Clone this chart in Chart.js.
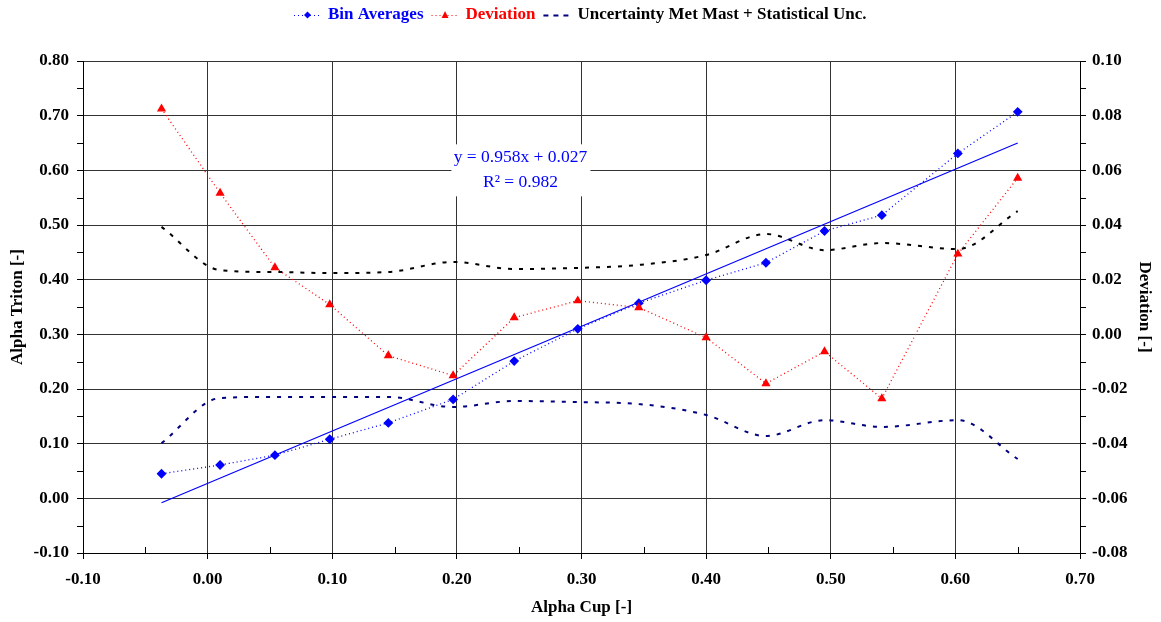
<!DOCTYPE html>
<html>
<head>
<meta charset="utf-8">
<script src="https://cdn.jsdelivr.net/npm/chart.js@4.4.1/dist/chart.umd.min.js"></script>
<style>
  html, body { margin: 0; padding: 0; background: #fff; }
</style>
</head>
<body>
<canvas id="chart" width="1161" height="622"></canvas>
<script>
  // values
  const alphaCup = [-0.037, 0.010, 0.054, 0.098, 0.145, 0.197, 0.246, 0.297, 0.346, 0.400, 0.448, 0.495, 0.541, 0.602, 0.650];
  const binAverages = [0.045, 0.061, 0.079, 0.108, 0.138, 0.181, 0.251, 0.310, 0.357, 0.399, 0.431, 0.489, 0.518, 0.631, 0.707];
  const deviation = [0.0825, 0.0517, 0.0244, 0.0109, -0.0078, -0.0151, 0.0061, 0.0123, 0.0098, -0.0012, -0.0180, -0.0063, -0.0235, 0.0294, 0.0572];
  const uncUpper = [0.0393, 0.0235, 0.0228, 0.0224, 0.0228, 0.0265, 0.0239, 0.0243, 0.0254, 0.0290, 0.0367, 0.0308, 0.0334, 0.0312, 0.0451];
  const uncLower = [-0.0398, -0.0233, -0.0229, -0.0229, -0.0229, -0.0266, -0.0244, -0.0248, -0.0255, -0.0295, -0.0372, -0.0314, -0.0339, -0.0314, -0.0456];
  const trendX = [-0.037, 0.650];
  const trendY = [-0.008, 0.650];
  const fitText = ['y = 0.958x + 0.027', 'R\u00b2 = 0.982'];

  const SERIF = '"Liberation Serif", "Times New Roman", serif';
  const BLUE = '#0000ff';
  const RED = '#ff0000';
  const NAVY = '#000080';

  const pts = (xs, ys) => xs.map((x, i) => ({ x, y: ys[i] }));
  const fmt = (v) => (Math.abs(v) < 1e-9 ? 0 : v).toFixed(2);
  const tickFont = { family: SERIF, size: 17, weight: 'bold' };
  const titleFont = { family: SERIF, size: 17, weight: 'bold' };

  const whiteBg = {
    id: 'whiteBg',
    beforeDraw(chart) {
      const ctx = chart.ctx;
      ctx.save();
      ctx.fillStyle = '#fff';
      ctx.fillRect(0, 0, chart.width, chart.height);
      ctx.restore();
    }
  };

  // half-step ticks like the original
  const minorTicks = {
    id: 'minorTicks',
    afterDraw(chart) {
      const { ctx, chartArea, scales } = chart;
      ctx.save();
      ctx.strokeStyle = '#000';
      ctx.lineWidth = 1;
      ctx.beginPath();
      for (let v = -0.05; v < 0.7; v += 0.1) {
        const px = Math.round(scales.x.getPixelForValue(v)) + 0.5;
        ctx.moveTo(px, chartArea.bottom);
        ctx.lineTo(px, chartArea.bottom - 6);
      }
      for (let v = -0.05; v < 0.8; v += 0.1) {
        const py = Math.round(scales.y.getPixelForValue(v)) + 0.5;
        ctx.moveTo(chartArea.left, py);
        ctx.lineTo(chartArea.left - 6, py);
      }
      for (let v = -0.07; v < 0.1; v += 0.02) {
        const py = Math.round(scales.y2.getPixelForValue(v)) + 0.5;
        ctx.moveTo(chartArea.right, py);
        ctx.lineTo(chartArea.right + 6, py);
      }
      ctx.stroke();
      ctx.restore();
    }
  };

  const fitLabel = {
    id: 'fitLabel',
    afterDatasetsDraw(chart) {
      const { ctx, scales } = chart;
      const cx = scales.x.getPixelForValue(0.251);
      const cy = scales.y.getPixelForValue(0.600);
      ctx.save();
      ctx.fillStyle = '#fff';
      ctx.fillRect(cx - 69, cy - 26, 139, 52);
      ctx.fillStyle = BLUE;
      ctx.font = '17.5px ' + SERIF;
      ctx.textAlign = 'center';
      ctx.textBaseline = 'middle';
      ctx.fillText(fitText[0], cx, cy - 13);
      ctx.fillText(fitText[1], cx, cy + 12);
      ctx.restore();
    }
  };

  const topLegend = {
    id: 'topLegend',
    afterDraw(chart) {
      const ctx = chart.ctx;
      const items = [
        { text: 'Bin Averages', color: BLUE, line: BLUE, dash: [1, 3], marker: 'diamond' },
        { text: 'Deviation', color: RED, line: RED, dash: [1, 3], marker: 'triangle' },
        { text: 'Uncertainty Met Mast + Statistical Unc.', color: '#000', line: NAVY, dash: [5, 5], marker: null }
      ];
      const sample = 27, gapIn = 7, gapOut = 8, y = 15;
      ctx.save();
      ctx.font = 'bold 17px ' + SERIF;
      ctx.textBaseline = 'middle';
      let total = 0;
      items.forEach((it, i) => {
        it.w = ctx.measureText(it.text).width;
        total += sample + gapIn + it.w + (i ? gapOut : 0);
      });
      let x = Math.round((chart.width - total) / 2);
      items.forEach((it, i) => {
        if (i) x += gapOut;
        ctx.strokeStyle = it.line;
        ctx.lineWidth = it.marker ? 1.2 : 2;
        ctx.setLineDash(it.dash);
        ctx.beginPath();
        ctx.moveTo(x, y + 0.5);
        ctx.lineTo(x + sample, y + 0.5);
        ctx.stroke();
        ctx.setLineDash([]);
        ctx.fillStyle = it.line;
        const mx = x + sample / 2;
        if (it.marker === 'diamond') {
          ctx.beginPath();
          ctx.moveTo(mx, y - 3.5); ctx.lineTo(mx + 3.5, y); ctx.lineTo(mx, y + 3.5); ctx.lineTo(mx - 3.5, y);
          ctx.closePath(); ctx.fill();
        } else if (it.marker === 'triangle') {
          ctx.beginPath();
          ctx.moveTo(mx, y - 4); ctx.lineTo(mx + 3.5, y + 3); ctx.lineTo(mx - 3.5, y + 3);
          ctx.closePath(); ctx.fill();
        }
        x += sample + gapIn;
        ctx.fillStyle = it.color;
        ctx.fillText(it.text, x, y);
        x += it.w;
      });
      ctx.restore();
    }
  };

  new Chart(document.getElementById('chart'), {
    type: 'scatter',
    data: {
      datasets: [
        {
          label: 'Uncertainty upper',
          data: pts(alphaCup, uncUpper),
          yAxisID: 'y2',
          showLine: true,
          borderColor: '#000',
          borderWidth: 2,
          borderDash: [4, 7],
          pointRadius: 0,
          cubicInterpolationMode: 'monotone'
        },
        {
          label: 'Uncertainty Met Mast + Statistical Unc.',
          data: pts(alphaCup, uncLower),
          yAxisID: 'y2',
          showLine: true,
          borderColor: NAVY,
          borderWidth: 2,
          borderDash: [4, 7],
          pointRadius: 0,
          cubicInterpolationMode: 'monotone'
        },
        {
          label: 'Deviation',
          data: pts(alphaCup, deviation),
          yAxisID: 'y2',
          showLine: true,
          borderColor: RED,
          borderWidth: 1.3,
          borderDash: [1, 3],
          pointStyle: 'triangle',
          pointRadius: 4,
          backgroundColor: RED,
          pointBorderColor: RED
        },
        {
          label: 'Trend',
          data: pts(trendX, trendY),
          yAxisID: 'y',
          showLine: true,
          borderColor: BLUE,
          borderWidth: 1.2,
          pointRadius: 0
        },
        {
          label: 'Bin Averages',
          data: pts(alphaCup, binAverages),
          yAxisID: 'y',
          showLine: true,
          borderColor: BLUE,
          borderWidth: 1.3,
          borderDash: [1, 3],
          pointStyle: 'rectRot',
          pointRadius: 4,
          backgroundColor: BLUE,
          pointBorderColor: BLUE
        }
      ]
    },
    options: {
      responsive: false,
      animation: false,
      layout: { padding: { top: 61, left: 0, right: 0, bottom: 0 } },
      plugins: {
        legend: { display: false },
        tooltip: { enabled: false }
      },
      scales: {
        x: {
          type: 'linear',
          min: -0.1,
          max: 0.7,
          ticks: { stepSize: 0.1, callback: fmt, font: tickFont, color: '#000', padding: 10, maxRotation: 0 },
          grid: { color: '#333', tickColor: '#000', tickLength: 6 },
          border: { color: '#000' },
          title: { display: true, text: 'Alpha Cup [-]', font: titleFont, color: '#000', padding: { top: 0, bottom: 4 } },
          afterFit: (s) => { s.height = 69; }
        },
        y: {
          position: 'left',
          min: -0.1,
          max: 0.8,
          ticks: { stepSize: 0.1, callback: fmt, font: tickFont, color: '#000', padding: 8 },
          grid: { color: '#333', tickColor: '#000', tickLength: 6 },
          border: { color: '#000' },
          title: { display: true, text: 'Alpha Triton [-]', font: titleFont, color: '#000', padding: { top: 7, bottom: 0 } },
          afterFit: (s) => { s.width = 83; }
        },
        y2: {
          position: 'right',
          min: -0.08,
          max: 0.1,
          ticks: { stepSize: 0.02, callback: fmt, font: tickFont, color: '#000', padding: 6 },
          grid: { drawOnChartArea: false, tickColor: '#000', tickLength: 6 },
          border: { color: '#000' },
          title: { display: true, text: 'Deviation [-]', font: titleFont, color: '#000', padding: { top: 6, bottom: 0 } },
          afterFit: (s) => { s.width = 81; }
        }
      }
    },
    plugins: [whiteBg, minorTicks, fitLabel, topLegend]
  });
</script>
</body>
</html>
